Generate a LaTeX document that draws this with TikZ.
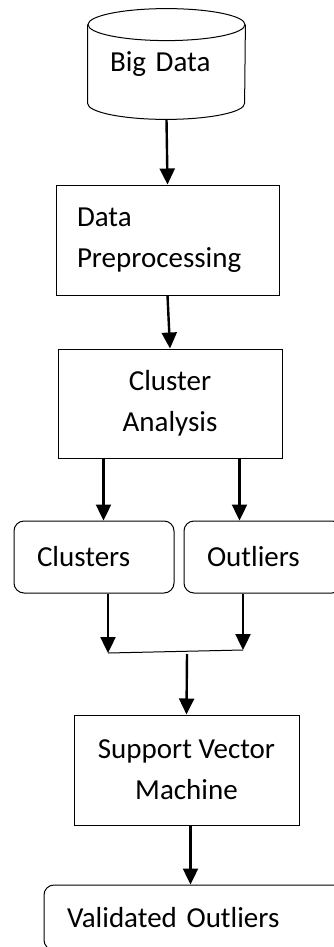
\documentclass[tikz,border=0pt]{standalone}
\usepackage{fontspec}
\setmainfont{Carlito}
\usetikzlibrary{arrows.meta}
\tikzset{
  box/.style={draw, line width=0.5pt},
  roundbox/.style={draw, line width=0.5pt, rounded corners=5pt, align=left, inner xsep=11.5pt},
  flow/.style={-{Triangle[length=8pt,width=7.5pt]}, line width=1.2pt},
}
\begin{document}
\begin{tikzpicture}[x=0.5pt,y=-0.5pt,font=\fontsize{14.5}{20.5}\selectfont]
        \useasboundingbox (0,0) rectangle (333,947);
        \node [minimum width=78.5pt, minimum height=39pt, inner sep=0pt, text width=56.5pt, align=left] (bigdata) at (166.5,64) {Big Data};
        \draw [line width=0.5pt] (bigdata.north west) -- (bigdata.south west)
            arc [start angle=180, end angle=360, x radius=39.25pt, y radius=8pt] -- (bigdata.north east);
        \draw [line width=0.5pt] (bigdata.north) ellipse [x radius=39.25pt, y radius=8pt];
        \coordinate (bigbase) at ([yshift=-8pt]bigdata.south);
        \node [box, minimum width=111.5pt, minimum height=55pt, text width=90.5pt, align=left] (prep) at (167.5,240) {Data\\Preprocessing};
        \node [box, minimum width=112pt, minimum height=54.5pt, align=center] (cluster) at (170,403.5) {Cluster\\Analysis};
        \node [roundbox, text width=57pt, minimum height=36pt] (clusters) at (94,557) {Clusters};
        \node [roundbox, text width=56pt, minimum height=36pt] (outliers) at (263,557) {Outliers};
        \node [box, minimum width=112.5pt, minimum height=55pt, align=center] (svm) at (186.5,770) {Support Vector\\Machine};
        \node [roundbox, text width=127.5pt, minimum height=32.5pt] (valid) at (194.5,917.5) {Validated Outliers};
        \coordinate (splitl) at ([xshift=23pt]cluster.south west);
        \coordinate (splitr) at ([xshift=-21.5pt]cluster.south east);
        \coordinate (joinl) at (108,653);
        \coordinate (joinr) at (243,650);
        \coordinate (joinm) at (187,654);
        \draw [flow] (bigbase) -- (prep.north);
        \draw [flow] (prep.south) -- (cluster.north);
        \draw [flow] (splitl) -- (splitl |- clusters.north);
        \draw [flow] (splitr) -- (splitr |- outliers.north);
        \draw [flow] (joinl |- clusters.south) -- (joinl);
        \draw [flow] (joinr |- outliers.south) -- (joinr);
        \draw [line width=0.5pt] (joinl) -- (joinr);
        \draw [flow] (joinm) -- (svm.north);
        \draw [flow] ([xshift=2pt]svm.south) -- ([xshift=2pt]svm.south |- valid.north);
    \end{tikzpicture}
\end{document}
